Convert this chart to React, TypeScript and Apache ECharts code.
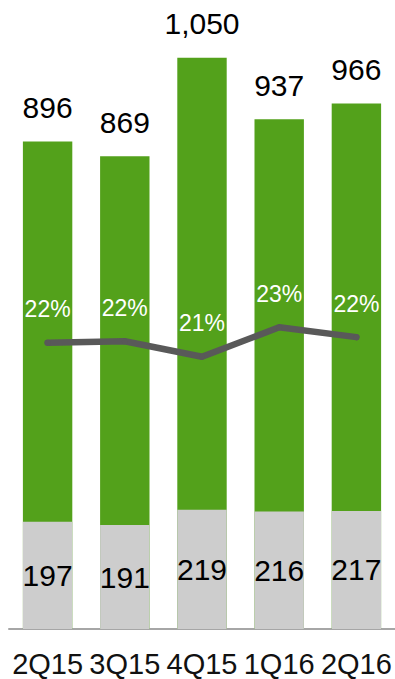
import React, { useEffect, useRef } from "react";
import * as echarts from "echarts";

const categories = ["2Q15", "3Q15", "4Q15", "1Q16", "2Q16"];
const totalValues = [896, 869, 1050, 937, 966];
const grayValues = [197, 191, 219, 216, 217];
const marginPct = [22.0, 22.1, 21.0, 23.1, 22.4];

const FONT = "'Liberation Sans', Arial, sans-serif";

export default function App() {
  const ref = useRef<HTMLDivElement>(null);
  useEffect(() => {
    if (!ref.current) return;
    const chart = echarts.init(ref.current, undefined, { renderer: "svg" });
    chart.setOption({
      animation: false,
      textStyle: { fontFamily: FONT },
      grid: { left: 9, right: -4, top: 0, bottom: 50, containLabel: false },
      xAxis: {
        type: "category",
        data: categories,
        axisLine: { show: true, lineStyle: { color: "#a6a6a6", width: 2 } },
        axisTick: { show: false },
        axisLabel: { color: "#111", fontSize: 29, fontFamily: FONT, margin: 20, interval: 0 },
      },
      yAxis: [
        { type: "value", min: 0, max: 1156, show: false, splitLine: { show: false } },
        { type: "value", min: 1.55, max: 46.48, show: false, splitLine: { show: false } },
      ],
      series: [
        {
          type: "bar",
          data: totalValues,
          barWidth: "64%",
          barGap: "-100%",
          itemStyle: { color: "#53a11b" },
          label: {
            show: true,
            position: "top",
            distance: 19,
            color: "#000",
            fontSize: 30,
            fontFamily: FONT,
            formatter: (p: any) => Number(p.value).toLocaleString("en-US"),
          },
          z: 1,
        },
        {
          type: "bar",
          data: grayValues,
          barWidth: "64%",
          barGap: "-100%",
          itemStyle: { color: "#cdcdcd" },
          label: {
            show: true,
            position: "inside",
            color: "#000",
            fontSize: 30,
            fontFamily: FONT,
          },
          z: 2,
        },
        {
          type: "line",
          yAxisIndex: 1,
          data: marginPct,
          symbol: "circle",
          symbolSize: 6,
          itemStyle: { color: "#595959" },
          lineStyle: { color: "#595959", width: 6.5, cap: "round", join: "round" },
          label: {
            show: true,
            position: "top",
            distance: 19,
            color: "#fff",
            fontSize: 23,
            fontFamily: FONT,
            formatter: (p: any) => Math.round(p.value) + "%",
          },
          z: 5,
        },
      ],
    });
    return () => chart.dispose();
  }, []);
  return (
    <div
      ref={ref}
      style={{ position: "absolute", left: 0, top: 0, width: 395, height: 679, background: "#fff" }}
    />
  );
}
